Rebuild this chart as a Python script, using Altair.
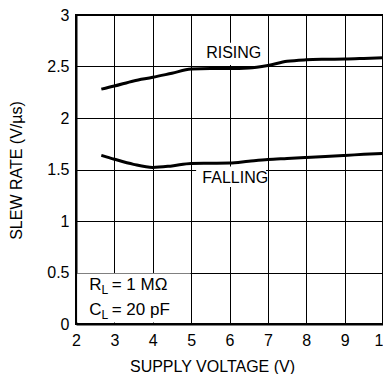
import altair as alt
import pandas as pd

# Supply voltage (V) sample points
rising_v = [2.66, 3.0, 3.5, 4.0, 4.5, 5.0, 5.5, 6.0, 6.5, 7.0, 7.5, 8.0, 8.5, 9.0, 9.5, 10.0]
rising_sr = [2.28, 2.31, 2.36, 2.395, 2.435, 2.475, 2.48, 2.48, 2.485, 2.51, 2.55, 2.565, 2.57, 2.572, 2.578, 2.585]

falling_v = [2.66, 3.0, 3.5, 4.0, 4.5, 5.0, 5.5, 6.0, 6.5, 7.0, 7.5, 8.0, 8.5, 9.0, 9.5, 10.0]
falling_sr = [1.638, 1.60, 1.55, 1.52, 1.535, 1.558, 1.56, 1.562, 1.58, 1.597, 1.607, 1.617, 1.627, 1.637, 1.647, 1.657]

x_ticks = [2, 3, 4, 5, 6, 7, 8, 9, 10]
y_ticks = [0, 0.5, 1, 1.5, 2, 2.5, 3]

curve_labels = ["RISING", "FALLING"]
curve_label_x = [6.11, 6.15]
curve_label_y = [2.58, 1.366]

FONT = "Liberation Sans"

df = pd.DataFrame(
    {"v": rising_v + falling_v,
     "sr": rising_sr + falling_sr,
     "curve": ["RISING"] * len(rising_v) + ["FALLING"] * len(falling_v)}
)

xs = alt.Scale(domain=[2, 10], nice=False, zero=False)
ys = alt.Scale(domain=[0, 3], nice=False, zero=False)

x_axis = alt.Axis(values=x_ticks, title="SUPPLY VOLTAGE (V)",
                  titleX=136, titleY=47, titleBaseline="alphabetic", titleAlign="center")
y_axis = alt.Axis(values=y_ticks, format="~g", title="SLEW RATE (V/µs)",
                  titleX=-55, titleY=155, titleAngle=270, titleBaseline="alphabetic", titleAlign="center")

# white boxes behind labels / legend
boxes = pd.DataFrame({
    "x1": [2.03, 5.13, 5.13],
    "x2": [4.985, 6.95, 6.95],
    "y1": [0.015, 2.515, 1.33],
    "y2": [0.49, 2.73, 1.53],
})
box_layer = alt.Chart(boxes).mark_rect(color="white", opacity=1).encode(
    x=alt.X("x1:Q", scale=xs, axis=x_axis), x2="x2:Q",
    y=alt.Y("y1:Q", scale=ys, axis=y_axis), y2="y2:Q",
)

lines = alt.Chart(df).mark_line(color="black", strokeWidth=3, interpolate="monotone").encode(
    x=alt.X("v:Q", scale=xs, axis=x_axis),
    y=alt.Y("sr:Q", scale=ys, axis=y_axis),
    detail="curve:N",
)

lab_df = pd.DataFrame({"t": curve_labels, "x": curve_label_x, "y": curve_label_y})
labels = alt.Chart(lab_df).mark_text(font=FONT, fontSize=16, color="black", align="center",
                                     baseline="alphabetic").encode(
    x=alt.X("x:Q", scale=xs, axis=x_axis), y=alt.Y("y:Q", scale=ys, axis=y_axis), text="t:N")

# condition legend: main text and subscripts
leg_main = pd.DataFrame({"t": ["R", "C", "= 1 MΩ", "= 20 pF"],
                         "x": [2.347, 2.347, 2.93, 2.93],
                         "y": [0.330, 0.087, 0.330, 0.087]})
leg_sub = pd.DataFrame({"t": ["L", "L"], "x": [2.667, 2.667], "y": [0.291, 0.049]})
leg1 = alt.Chart(leg_main).mark_text(font=FONT, fontSize=17, color="black", align="left",
                                     baseline="alphabetic").encode(
    x=alt.X("x:Q", scale=xs, axis=x_axis), y=alt.Y("y:Q", scale=ys, axis=y_axis), text="t:N")
leg2 = alt.Chart(leg_sub).mark_text(font=FONT, fontSize=12, color="black", align="left",
                                    baseline="alphabetic").encode(
    x=alt.X("x:Q", scale=xs, axis=x_axis), y=alt.Y("y:Q", scale=ys, axis=y_axis), text="t:N")

chart = alt.layer(box_layer, lines, labels, leg1, leg2).properties(
    width=307, height=309,
    autosize=alt.AutoSizeParams(type="none"),
).configure(
    background="white",
    padding={"left": 68, "top": 7, "right": 0, "bottom": 50},
).configure_view(
    stroke="black", strokeWidth=2, continuousWidth=307, continuousHeight=309,
).configure_axis(
    grid=True, ticks=False, domainColor="black", domainWidth=2,
    gridColor="black", gridWidth=1, gridOpacity=1,
    labelFontSize=16, labelFont=FONT, labelColor="black", labelFlush=False, labelOverlap=False,
    titleFontSize=16, titleFont=FONT, titleFontWeight="normal", titleColor="black",
).configure_axisX(labelPadding=8).configure_axisY(labelPadding=7)

chart.save("out.html", embed_options={"renderer": "svg", "actions": False})
